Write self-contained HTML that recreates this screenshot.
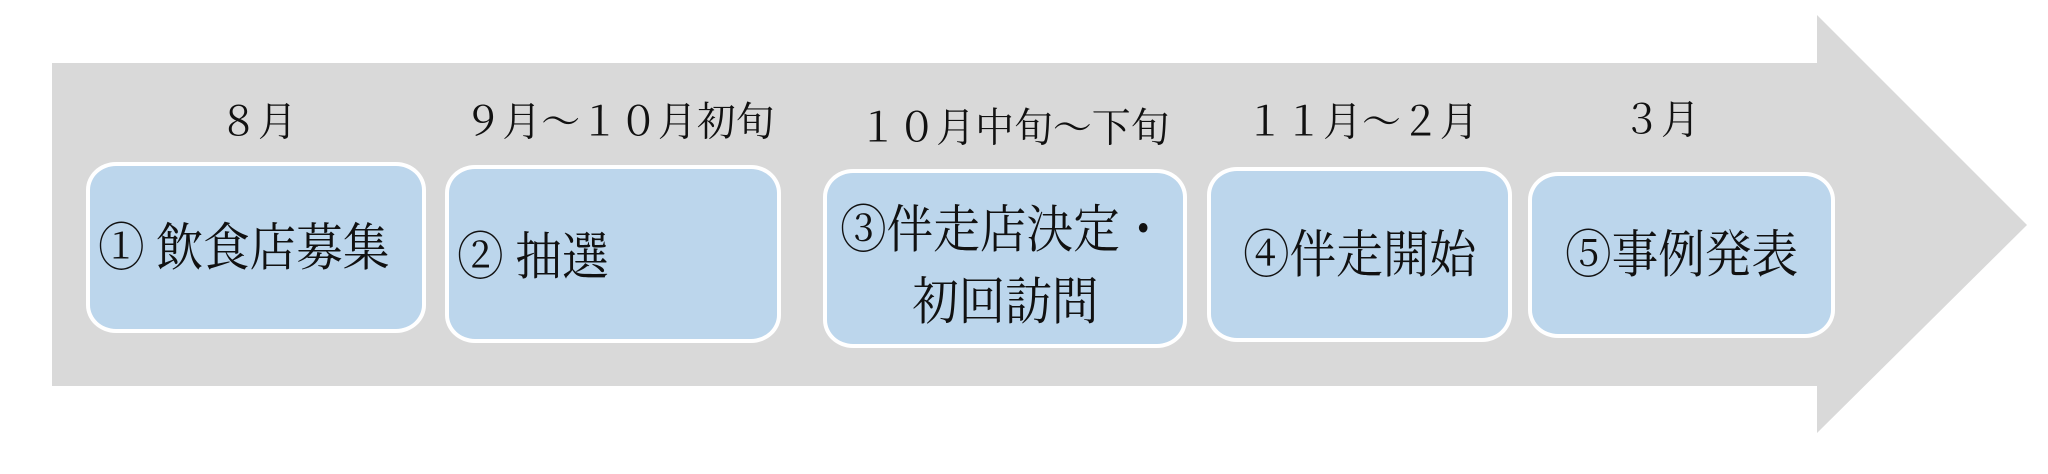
<!DOCTYPE html>
<html><head><meta charset="utf-8"><style>
body{margin:0;width:2048px;height:474px;background:#fff;position:relative;overflow:hidden;font-family:"Liberation Serif","Noto Serif CJK JP","Noto Serif CJK SC",serif;color:#111}
.box{position:absolute;background:#bcd6ec;border:4px solid #fff;border-radius:30px/28px;box-sizing:border-box}
.t{position:absolute;white-space:nowrap;transform:translate(-50%,-50%) scale(1.08,1.12);font-size:36px;line-height:1}
.bt{position:absolute;white-space:nowrap;font-size:44px;line-height:1;transform-origin:left center;transform:translateY(-50%) scale(1.06,1.18)}
</style></head><body>
<svg width="2048" height="474" style="position:absolute;left:0;top:0">
<polygon points="52,63 1817,63 1817,15 2027,225 1817,433 1817,386 52,386" fill="#d9d9d9"/>
</svg>
<div class="t" style="left:258px;top:122px">８月</div>
<div class="t" style="left:619px;top:122px">９月～１０月初旬</div>
<div class="t" style="left:1014px;top:128px">１０月中旬～下旬</div>
<div class="t" style="left:1362px;top:122px">１１月～２月</div>
<div class="t" style="left:1661px;top:120px">３月</div>

<div class="box" style="left:86px;top:162px;width:340px;height:171px"></div>
<div class="box" style="left:445px;top:165px;width:336px;height:178px"></div>
<div class="box" style="left:823px;top:169px;width:364px;height:179px"></div>
<div class="box" style="left:1207px;top:167px;width:305px;height:175px"></div>
<div class="box" style="left:1528px;top:172px;width:307px;height:166px"></div>

<div class="bt" style="left:98px;top:249px">①&nbsp;飲食店募集</div>
<div class="bt" style="left:457px;top:258px">②&nbsp;抽選</div>
<div class="bt" style="left:840px;top:231px">③伴走店決定・</div>
<div class="bt" style="left:912px;top:303px">初回訪問</div>
<div class="bt" style="left:1243px;top:256px">④伴走開始</div>
<div class="bt" style="left:1565px;top:256px">⑤事例発表</div>
</body></html>
